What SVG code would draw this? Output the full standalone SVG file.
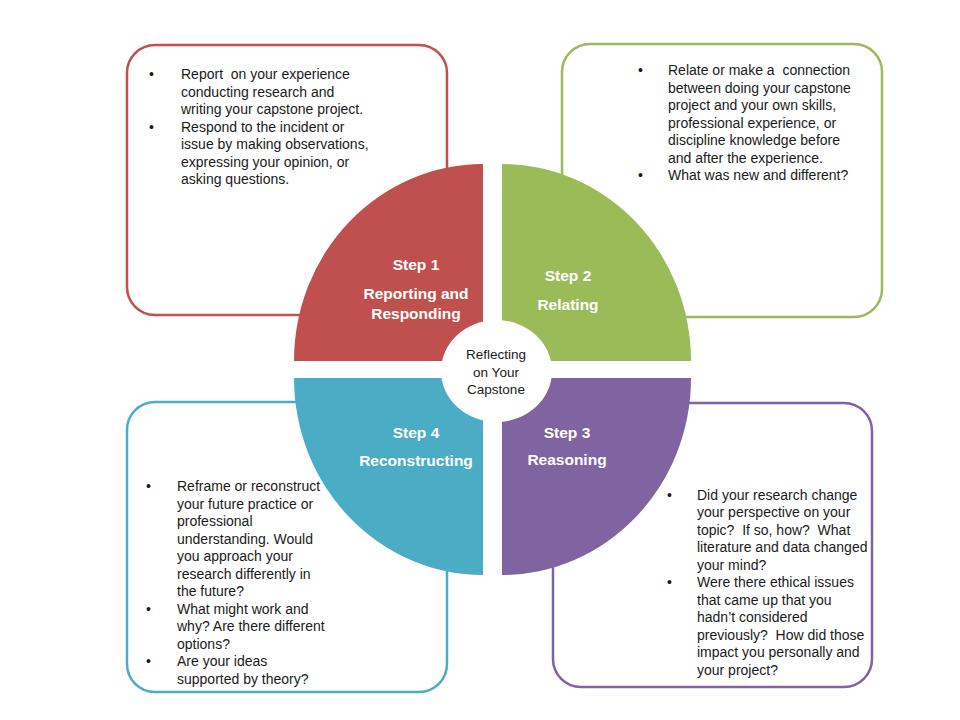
<svg xmlns="http://www.w3.org/2000/svg" width="960" height="720" viewBox="0 0 960 720">
<style>
.box{fill:#fff;stroke-width:2.5}
.t{font-family:"Liberation Sans",Arial,sans-serif;font-size:14px;fill:#1a1a1a;white-space:pre}
.h{font-family:"Liberation Sans",Arial,sans-serif;font-size:15.5px;font-weight:bold;fill:#fff;text-anchor:middle}
.c{font-family:"Liberation Sans",Arial,sans-serif;font-size:13.5px;fill:#1a1a1a;text-anchor:middle}
</style>
<rect width="960" height="720" fill="#fff"/>
<g id="box1">
<rect class="box" x="127" y="45" width="320" height="270" rx="28" stroke="#C0504D"/>
<text class="t" xml:space="preserve"><tspan x="149" y="79">•</tspan><tspan x="181" y="79">Report  on your experience</tspan><tspan x="181" y="96.5">conducting research and</tspan><tspan x="181" y="114">writing your capstone project.</tspan><tspan x="149" y="131.5">•</tspan><tspan x="181" y="131.5">Respond to the incident or</tspan><tspan x="181" y="149">issue by making observations,</tspan><tspan x="181" y="166.5">expressing your opinion, or</tspan><tspan x="181" y="184">asking questions.</tspan></text>
</g>
<g id="box2">
<rect class="box" x="562" y="44" width="320" height="273" rx="28" stroke="#9BBB59"/>
<text class="t" xml:space="preserve"><tspan x="638" y="75">•</tspan><tspan x="668" y="75">Relate or make a  connection</tspan><tspan x="668" y="92.5">between doing your capstone</tspan><tspan x="668" y="110">project and your own skills,</tspan><tspan x="668" y="127.5">professional experience, or</tspan><tspan x="668" y="145">discipline knowledge before</tspan><tspan x="668" y="162.5">and after the experience.</tspan><tspan x="638" y="180">•</tspan><tspan x="668" y="180">What was new and different?</tspan></text>
</g>
<g id="box4">
<rect class="box" x="127" y="402" width="320" height="290" rx="28" stroke="#4BACC6"/>
<text class="t" xml:space="preserve"><tspan x="146" y="491">•</tspan><tspan x="177" y="491">Reframe or reconstruct</tspan><tspan x="177" y="508.5">your future practice or</tspan><tspan x="177" y="526">professional</tspan><tspan x="177" y="543.5">understanding. Would</tspan><tspan x="177" y="561">you approach your</tspan><tspan x="177" y="578.5">research differently in</tspan><tspan x="177" y="596">the future?</tspan><tspan x="146" y="613.5">•</tspan><tspan x="177" y="613.5">What might work and</tspan><tspan x="177" y="631">why? Are there different</tspan><tspan x="177" y="648.5">options?</tspan><tspan x="146" y="666">•</tspan><tspan x="177" y="666">Are your ideas</tspan><tspan x="177" y="683.5">supported by theory?</tspan></text>
</g>
<g id="box3">
<rect class="box" x="553" y="403" width="319" height="284" rx="28" stroke="#8064A2"/>
<text class="t" xml:space="preserve"><tspan x="667" y="499.5">•</tspan><tspan x="697" y="499.5">Did your research change</tspan><tspan x="697" y="517">your perspective on your</tspan><tspan x="697" y="534.5">topic?  If so, how?  What</tspan><tspan x="697" y="552">literature and data changed</tspan><tspan x="697" y="569.5">your mind?</tspan><tspan x="667" y="587">•</tspan><tspan x="697" y="587">Were there ethical issues</tspan><tspan x="697" y="604.5">that came up that you</tspan><tspan x="697" y="622">hadn’t considered</tspan><tspan x="697" y="639.5">previously?  How did those</tspan><tspan x="697" y="657">impact you personally and</tspan><tspan x="697" y="674.5">your project?</tspan></text>
</g>
<g id="step1">
<path d="M483,361 L294,361 A189,197 0 0 1 483,164 Z" fill="#C0504D"/>
<text class="h"><tspan x="416" y="270">Step 1</tspan><tspan x="416" y="299">Reporting and</tspan><tspan x="416" y="319">Responding</tspan></text>
</g>
<g id="step2">
<path d="M502,361 L502,164 A189,197 0 0 1 691,361 Z" fill="#9BBB59"/>
<text class="h"><tspan x="568" y="281">Step 2</tspan><tspan x="568" y="310">Relating</tspan></text>
</g>
<g id="step3">
<path d="M502,378 L691,378 A189,197 0 0 1 502,575 Z" fill="#8064A2"/>
<text class="h"><tspan x="567" y="438">Step 3</tspan><tspan x="567" y="465">Reasoning</tspan></text>
</g>
<g id="step4">
<path d="M483,378 L483,575 A189,197 0 0 1 294,378 Z" fill="#4BACC6"/>
<text class="h"><tspan x="416" y="438">Step 4</tspan><tspan x="416" y="466">Reconstructing</tspan></text>
</g>
<g id="center">
<ellipse cx="496.5" cy="371" rx="55.5" ry="51" fill="#fff"/>
<text class="c"><tspan x="496" y="359">Reflecting</tspan><tspan x="496" y="376.5">on Your</tspan><tspan x="496" y="394">Capstone</tspan></text>
</g>
<g id="connectors"/>
</svg>
